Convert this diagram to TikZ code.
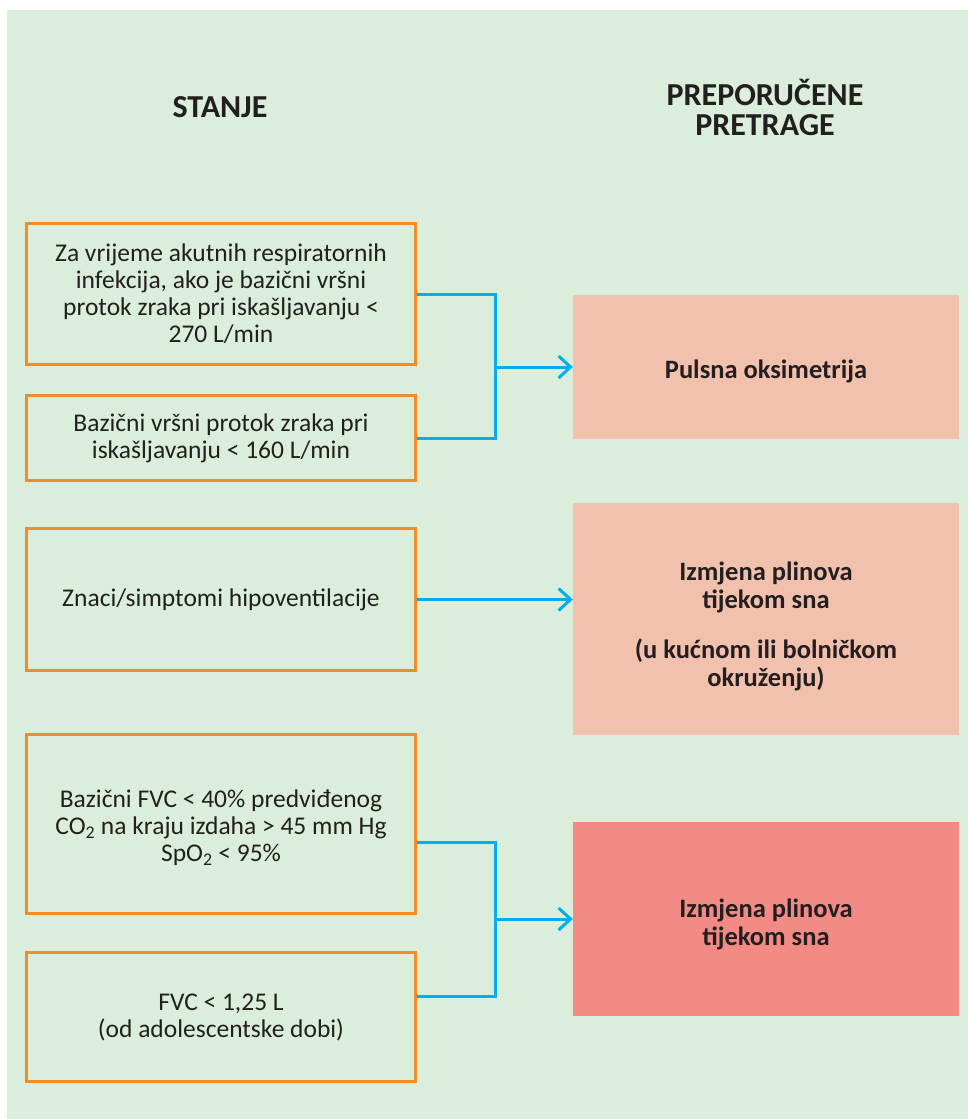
\documentclass[tikz,border=0pt]{standalone}
\usepackage{fontspec}
\setmainfont{Carlito}
\usetikzlibrary{arrows.meta,calc}
\definecolor{bggreen}{RGB}{218,238,219}
\definecolor{borange}{RGB}{242,140,40}
\definecolor{lblue}{RGB}{0,174,239}
\definecolor{salmon}{RGB}{241,193,173}
\definecolor{redpink}{RGB}{242,139,133}
\definecolor{txt}{RGB}{35,31,32}
\tikzset{
  condbox/.style={draw=borange, line width=3pt, fill=bggreen, text=txt, align=center,
    font=\fontsize{25.5}{27}\selectfont, inner sep=0pt, minimum width=389pt},
  resbox/.style={inner sep=0pt, minimum width=386pt},
  restext/.style={text=txt, align=center, font=\fontsize{26.5}{28}\selectfont\bfseries,
    inner sep=0pt, yshift=-5pt},
  header/.style={text=txt, align=center, font=\fontsize{32}{30}\selectfont\bfseries},
  link/.style={draw=lblue, line width=3pt},
  arrowlink/.style={link, -{Straight Barb[length=12pt,width=22pt,line width=3pt]}}
}
\begin{document}
\begin{tikzpicture}[x=1pt,y=-1pt]
\useasboundingbox (0,0) rectangle (968,1119);
\fill[white] (0,0) rectangle (968,1119);
\fill[bggreen] (7,10) rectangle (968,1119);

\node[header] (h1) at (220,107) {STANJE};
\node[header] (h2) at (765,107) {PREPORUČENE\\PRETRAGE};

\node[condbox, minimum height=141pt] (b1) at (221,294)
  {Za vrijeme akutnih respiratornih\\infekcija, ako je bazični vršni\\protok zraka pri iskašljavanju <\\270 L/min};
\node[condbox, minimum height=85pt] (b2) at (221,438)
  {Bazični vršni protok zraka pri\\iskašljavanju < 160 L/min};
\node[condbox, minimum height=142pt] (b3) at (221,599.5)
  {Znaci/simptomi hipoventilacije};
\node[condbox, minimum height=179pt,
  label={[condbox, draw=none, fill=none, minimum width=0pt, yshift=-4pt]center:{Bazični FVC < 40\% predviđenog\\CO\textsubscript{2} na kraju izdaha > 45 mm Hg\\SpO\textsubscript{2} < 95\%}}] (b4) at (221,824) {};
\node[condbox, minimum height=129pt] (b5) at (221,1017)
  {FVC < 1,25 L\\(od adolescentske dobi)};

\node[resbox, fill=salmon, minimum height=144pt,
  label={[restext, yshift=1pt]center:Pulsna oksimetrija}] (r1) at (766,367) {};
\node[resbox, fill=salmon, minimum height=232pt,
  label={[restext, yshift=-2pt]center:{Izmjena plinova\\tijekom sna\\[22pt](u kućnom ili bolničkom\\okruženju)}}] (r2) at (766,619) {};
\node[resbox, fill=redpink, minimum height=194pt,
  label={[restext]center:{Izmjena plinova\\tijekom sna}}] (r3) at (766,919) {};

\coordinate (j1) at (495,367);
\draw[link] (b1.east) -| (j1) |- (b2.east);
\draw[arrowlink] (j1) -- (r1.west |- j1);

\draw[arrowlink] (b3.east) -- (r2.west |- b3.east);

\coordinate (j2) at (495,919);
\draw[link] ([yshift=-18pt]b4.east) -| (j2) |- ([yshift=21pt]b5.east);
\draw[arrowlink] (j2) -- (r3.west |- j2);
\end{tikzpicture}
\end{document}
